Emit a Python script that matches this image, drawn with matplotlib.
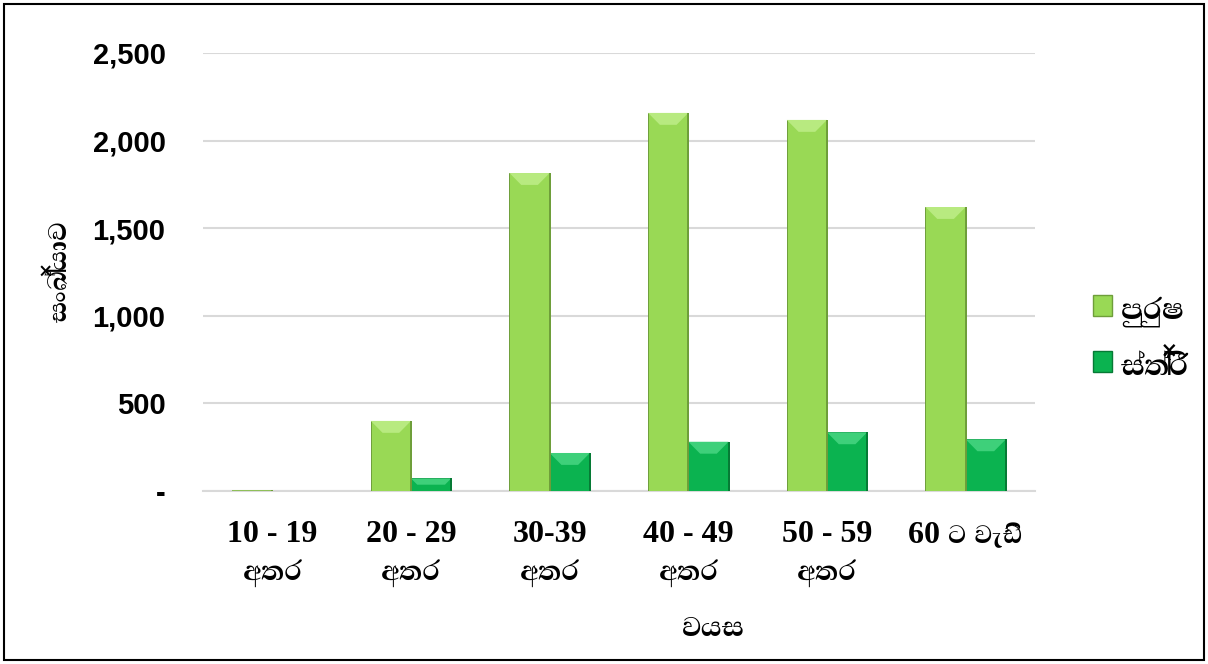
import matplotlib
matplotlib.use("Agg")
import matplotlib.pyplot as plt
from matplotlib import font_manager as fm
from matplotlib.patches import Rectangle, Polygon, Patch
import numpy as np
import glob

for f in glob.glob("/usr/share/fonts/truetype/google-fonts/*Sinhala*.ttf") + \
         glob.glob("/usr/share/fonts/truetype/google-fonts/AbhayaLibre*.ttf"):
    try:
        fm.fontManager.addfont(f)
    except Exception:
        pass

# ---- data ----
range_labels = ["10 - 19", "20 - 29", "30-39", "40 - 49", "50 - 59", "60 ට වැඩි"]
suffix_labels = ["අතර", "අතර", "අතර", "අතර", "අතර", ""]
male = [5, 400, 1815, 2158, 2118, 1621]
female = [0, 72, 217, 281, 335, 295]
series_names = ["පුරුෂ", "ස්ත්‍රී"]
y_ticks = [0, 500, 1000, 1500, 2000, 2500]
y_tick_labels = ["-", "500", "1,000", "1,500", "2,000", "2,500"]
y_label = "සංඛ්‍යාව"
x_label = "වයස"

SIN = "Abhaya Libre"
LAT_SERIF = "Liberation Serif"

fig = plt.figure(figsize=(12.08, 6.64), dpi=100)
ax = fig.add_axes([203/1208, 1-491/664, (1035-203)/1208, (491-53)/664])

x = np.arange(len(range_labels))
w = 0.29
c_m, c_m_hi, c_m_dk = "#99D955", "#B8EA80", "#6E9E3A"
c_f, c_f_hi, c_f_dk = "#0BB350", "#3ED07A", "#067A35"

ax.set_ylim(0, 2500)
ax.set_xlim(-0.5, len(range_labels) - 0.5)

def bevel_bars(xc, vals, col, hi, dk):
    ax.bar(xc, vals, w, color=col, edgecolor=dk, linewidth=0.7, zorder=3)
    for xi, v in zip(xc, vals):
        if v <= 0:
            continue
        bh = min(68.0, v / 2.0)
        inset = 0.085 * bh / 68.0
        l, r = xi - w/2, xi + w/2
        ax.add_patch(Polygon([(l, v), (r, v), (r - inset, v - bh), (l + inset, v - bh)],
                             closed=True, facecolor=hi, edgecolor="none", zorder=4))
        ax.plot([r, r], [0, v], color=dk, linewidth=1.4, zorder=5, solid_capstyle="butt")

bevel_bars(x - w/2, male, c_m, c_m_hi, c_m_dk)
bevel_bars(x + w/2, female, c_f, c_f_hi, c_f_dk)

ax.set_yticks(y_ticks)
ax.set_yticklabels(y_tick_labels, fontfamily="Liberation Sans", fontweight="bold", fontsize=21)
ax.tick_params(axis="y", length=0, pad=27)
ax.grid(axis="y", color="#D9D9D9", linewidth=1.5, zorder=0)
ax.set_axisbelow(True)
for s in ["top", "right", "left"]:
    ax.spines[s].set_visible(False)
ax.spines["bottom"].set_color("#D9D9D9")
ax.spines["bottom"].set_linewidth(1.5)

ax.set_xticks(x)
ax.set_xticklabels([""] * len(x))
ax.tick_params(axis="x", length=0)
for i in range(len(x)):
    ax.annotate(range_labels[i], xy=(x[i], 0), xycoords=("data", "axes fraction"),
                xytext=(0, -36.5), textcoords="offset points",
                ha="center", va="baseline", fontfamily=[LAT_SERIF, SIN],
                fontweight="bold", fontsize=23)
    if suffix_labels[i]:
        ax.annotate(suffix_labels[i], xy=(x[i], 0), xycoords=("data", "axes fraction"),
                    xytext=(0, -64), textcoords="offset points",
                    ha="center", va="baseline", fontfamily=SIN, fontweight="bold", fontsize=25)

fig.text(60/1208, 1-271/664, y_label, rotation=90, ha="center", va="center",
         fontfamily=SIN, fontsize=24, fontweight="bold")
fig.text(714/1208, 1-628/664, x_label, ha="center", va="center",
         fontfamily=SIN, fontsize=25, fontweight="bold")

handles = [Patch(facecolor=c_m, edgecolor=c_m_dk), Patch(facecolor=c_f, edgecolor=c_f_dk)]
leg = fig.legend(handles, series_names, loc="center left", bbox_to_anchor=(1093/1208, 1-338/664),
                 frameon=False, prop={"family": SIN, "size": 27, "weight": "bold"},
                 handlelength=0.5, handleheight=0.5, handletextpad=0.25, labelspacing=0.6,
                 borderaxespad=0, borderpad=0)

fig.add_artist(Rectangle((4/1208, 4/664), 1200/1208, 656/664, transform=fig.transFigure,
                         fill=False, edgecolor="black", linewidth=1.5))

fig.savefig("out.png", dpi=100)
